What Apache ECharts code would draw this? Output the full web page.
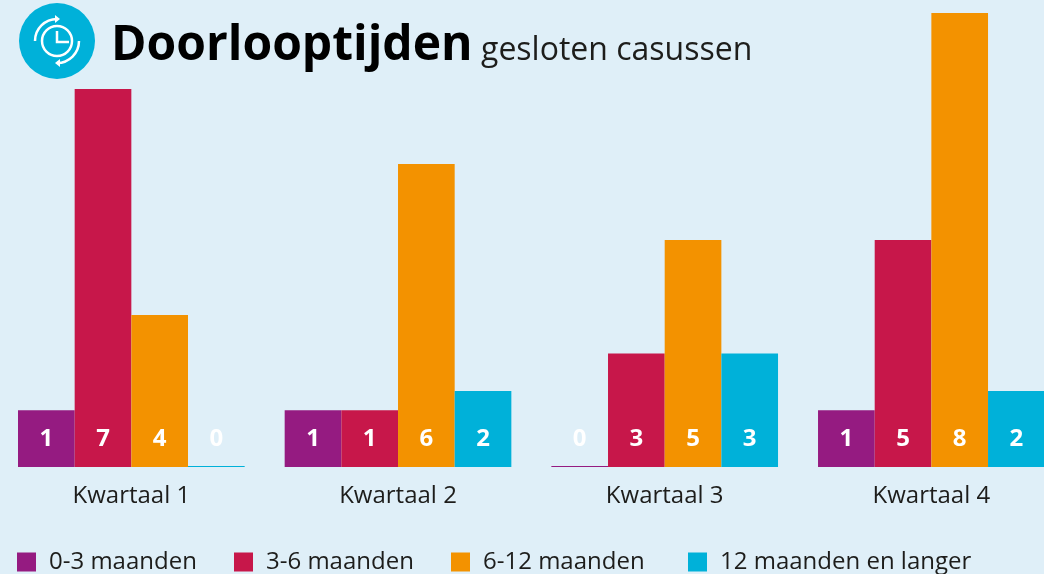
<!DOCTYPE html>
<html>
<head>
<meta charset="utf-8">
<style>
html, body { margin: 0; padding: 0; background: #dfeff8; overflow: hidden; }
#main { width: 1044px; height: 574px; }
</style>
<script src="https://cdn.jsdelivr.net/npm/echarts@6/dist/echarts.min.js"></script>
</head>
<body>
<div id="main"></div>
<script>
var kwartalen = ['Kwartaal 1', 'Kwartaal 2', 'Kwartaal 3', 'Kwartaal 4'];
var namen = ['0-3 maanden', '3-6 maanden', '6-12 maanden', '12 maanden en langer'];
var kleuren = ['#951b81', '#c7174a', '#f39200', '#00b1d9'];

// getallen zoals ze in de balken staan
var labels03 = [1, 1, 0, 1];
var labels36 = [7, 1, 3, 5];
var labels612 = [4, 6, 5, 8];
var labels12 = [0, 2, 3, 2];

// hoogte van de balken zoals getekend, die loopt niet gelijk met de getallen
var hoogte03 = [1, 1, 0, 1];
var hoogte36 = [6.66, 1, 2, 4];
var hoogte612 = [2.68, 5.34, 4, 8];
var hoogte12 = [0, 1.34, 2, 1.34];

var myChart = echarts.init(document.getElementById('main'));

function serie(i, hoogte, labels) {
    return {
        name: namen[i],
        type: 'bar',
        data: hoogte,
        barGap: 0,
        barCategoryGap: '15%',
        barMinHeight: 1,
        itemStyle: { color: kleuren[i] },
        label: {
            show: true,
            position: 'insideBottom',
            distance: 16,
            color: '#fff',
            fontFamily: 'Open Sans',
            fontWeight: 'bold',
            fontSize: 24,
            formatter: function (p) { return labels[p.dataIndex]; }
        }
    };
}

// elk legenda-item apart, de tussenruimte is niet overal gelijk
function legenda(i, links) {
    return {
        left: links,
        top: 545,
        itemWidth: 19,
        itemHeight: 19,
        icon: 'rect',
        data: [namen[i]],
        textStyle: { fontFamily: 'Open Sans', fontSize: 24, color: '#1d1d1b', padding: [4, 0, 0, 8] }
    };
}

var wit = { stroke: '#fff', lineWidth: 2.5, fill: 'none' };

option = {
    backgroundColor: '#dfeff8',
    animation: false,
    title: [
        {
            left: 106,
            top: 17,
            text: 'Doorlooptijden',
            textStyle: { fontFamily: 'Open Sans', fontWeight: 'bold', fontSize: 48, color: '#000' }
        },
        {
            left: 476,
            top: 30,
            text: 'gesloten casussen',
            textStyle: { fontFamily: 'Open Sans', fontWeight: 'normal', fontSize: 32, color: '#1d1d1b' }
        }
    ],
    legend: [legenda(0, 12), legenda(1, 229), legenda(2, 446), legenda(3, 683)],
    grid: { left: -2, top: 13, width: 1066.7, bottom: 107, outerBoundsMode: 'none' },
    xAxis: {
        type: 'category',
        data: kwartalen,
        axisLine: { show: false },
        axisTick: { show: false },
        axisLabel: { fontFamily: 'Open Sans', fontSize: 24, color: '#1d1d1b', margin: 17 }
    },
    yAxis: { type: 'value', min: 0, max: 8, show: false },
    series: [
        serie(0, hoogte03, labels03),
        serie(1, hoogte36, labels36),
        serie(2, hoogte612, labels612),
        serie(3, hoogte12, labels12)
    ],
    graphic: [
        { type: 'circle', shape: { cx: 57, cy: 41, r: 38 }, style: { fill: '#00b1d9' } },
        { type: 'circle', shape: { cx: 57, cy: 41, r: 15 }, style: wit },
        { type: 'polyline', shape: { points: [[57, 31], [57, 42], [69, 42]] }, style: wit },
        { type: 'arc', shape: { cx: 57, cy: 41, r: 22, startAngle: Math.PI, endAngle: Math.PI * 1.5, clockwise: true }, style: wit },
        { type: 'arc', shape: { cx: 57, cy: 41, r: 22, startAngle: 0, endAngle: Math.PI * 0.5, clockwise: true }, style: wit },
        { type: 'polygon', shape: { points: [[55, 15], [60, 19], [55, 23]] }, style: { fill: '#fff' } },
        { type: 'polygon', shape: { points: [[60, 59], [55, 63], [60, 67]] }, style: { fill: '#fff' } }
    ]
};

myChart.setOption(option);
</script>
</body>
</html>
